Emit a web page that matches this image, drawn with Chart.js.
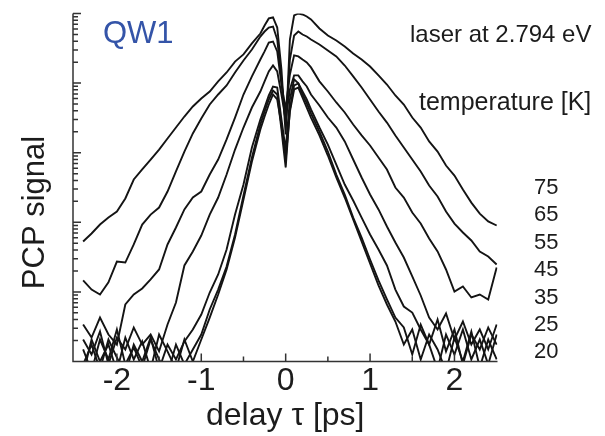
<!DOCTYPE html>
<html><head><meta charset="utf-8">
<script src="https://cdn.jsdelivr.net/npm/chart.js@4.4.0/dist/chart.umd.min.js"></script>
<style>html,body{margin:0;padding:0;background:#fff;}canvas{display:block;}</style>
</head><body>
<canvas id="c" width="605" height="436"></canvas>
<script>
const delay = [-2.4,-2.3,-2.2,-2.1,-2.0,-1.9,-1.8,-1.7,-1.6,-1.5,-1.4,-1.3,-1.2,-1.1,-1.0,-0.9,-0.8,-0.7,-0.6,-0.5,-0.4,-0.3,
  -0.25,-0.2,-0.15,-0.1,-0.05,0,0.05,0.1,0.15,0.2,0.25,
  0.3,0.4,0.5,0.6,0.7,0.8,0.9,1.0,1.1,1.2,1.3,1.4,1.5,1.6,1.7,1.8,1.9,2.0,2.1,2.2,2.3,2.4,2.5];
const temperatures = ['75','65','55','45','35','25','20'];
const pcp75 = [53,69,93,117,143,220,412,574,798,1110,1600,2300,3310,4620,6000,7570,10600,14200,20400,25800,37100,51600,
  67200,84900,87700,62900,15700,1830,42300,93700,100000,96900,90700,
  82100,60900,48300,40900,33600,26700,21800,17300,12900,9550,6640,4930,3200,2300,1450,1040,654,470,296,192,133,103,90];
const pcp65 = [14.6,10.8,9.18,13.7,27.3,26.4,48.0,92.9,129,163,277,537,1040,1890,3100,4930,6860,9240,14200,21100,30400,46700,
  55100,62900,65000,42300,11300,2540,21800,48300,55100,49900,46700,
  42300,35900,29400,24200,17900,12500,8640,5810,3910,2710,1770,1190,798,537,338,235,143,96,71.3,54.8,38.1,32.3,24.8];
const pcp55 = [3.40,2.21,4.28,2.44,1.75,6.59,9.18,11.2,15.1,21.0,48.0,84.2,153,227,277,486,798,1550,3200,6860,12500,21800,
  28500,38300,39600,28500,9550,4180,13300,25000,24200,21800,19800,
  16800,10600,7570,5270,3780,2540,1770,1270,852,574,316,227,138,96,58.5,38.1,21.0,10.1,12.0,8.31,9.18,7.78,22.4];
const pcp45 = [2.07,1.26,2.70,0.906,2.21,1.49,3.08,1.75,2.44,1.40,3.40,7.04,24.0,38.1,64.6,129,227,486,1110,2300,4460,7570,
  10600,14700,17900,14700,6860,3000,8090,12900,12900,10600,8940,
  6860,4770,3200,2300,1450,798,440,251,153,87.0,51.3,31.2,16.7,8.88,4.28,2.88,4.9,2.07,3.75,1.75,2.88,1.49,3.40];
const pcp35 = [0.906,1.75,0.768,2.07,1.14,0.650,1.75,1.00,2.21,0.768,1.75,1.07,1.94,2.88,4.73,9.80,17.8,40.7,129,349,1190,3000,
  4460,6640,8940,8640,3000,1110,5810,11300,9900,7570,5810,
  4180,2300,1310,676,349,206,117,66.8,40.7,24.0,10.8,6.17,5.05,2.88,1.75,4.01,1.40,2.88,0.906,2.44,1.49,3.08,1.75];
const pcp25 = [1.49,0.72,2.07,1.07,2.88,0.906,1.59,0.82,2.07,1.07,0.650,1.75,0.906,1.49,2.44,5.59,10.8,23.2,66.8,243,852,2540,
  3910,5810,7830,6860,2150,613,4180,9240,9870,6860,5100,
  3660,2010,1040,486,251,117,60.4,29.2,14.6,7.78,4.28,3.08,1.26,3.40,1.75,0.768,2.44,1.26,2.88,1.07,2.07,0.906,2.44];
const pcp20 = [0.650,2.07,1.00,1.75,0.72,2.21,1.07,1.94,0.768,2.44,1.40,0.768,2.07,1.00,2.07,4.28,9.18,21.0,60.4,213,747,2150,
  3310,4930,6860,5810,2540,798,3910,8090,8640,6200,4460,
  3200,1770,911,440,227,110,53.0,25.6,12.4,6.59,3.75,1.75,2.88,1.07,2.44,1.49,0.72,2.21,1.00,2.70,0.82,2.07,1.07];
const xTickValues = [-2,-1,0,1,2];
const xMinorTicks = [-1.5,-0.5,0.5,1.5];
const series = [pcp75,pcp65,pcp55,pcp45,pcp35,pcp25,pcp20];

const FONT = '"Liberation Sans", Arial, Helvetica, sans-serif';
const TXT = '#1c1c1c';

const decor = {
  id: 'decor',
  afterDraw(chart) {
    const {ctx, chartArea: a, scales: {x, y}} = chart;
    ctx.save();
    ctx.strokeStyle = '#333';
    ctx.lineWidth = 1.5;
    ctx.beginPath();
    ctx.moveTo(a.left, a.top);
    ctx.lineTo(a.left, a.bottom);
    ctx.lineTo(a.right, a.bottom);
    xTickValues.forEach(v => { const p = x.getPixelForValue(v); ctx.moveTo(p, a.bottom); ctx.lineTo(p, a.bottom - 8); });
    xMinorTicks.forEach(v => { const p = x.getPixelForValue(v); ctx.moveTo(p, a.bottom); ctx.lineTo(p, a.bottom - 5); });
    for (let d = 0; d <= 5; d++) {
      for (let k = 1; k <= 9; k++) {
        const v = k * Math.pow(10, d);
        if (v > y.max) break;
        const p = y.getPixelForValue(v);
        ctx.moveTo(a.left, p); ctx.lineTo(a.left + (k === 1 ? 8 : 5), p);
      }
    }
    ctx.stroke();

    ctx.fillStyle = '#3454a8';
    ctx.font = '31px ' + FONT;
    ctx.textAlign = 'left';
    ctx.textBaseline = 'alphabetic';
    ctx.fillText('QW1', 103, 43);

    ctx.fillStyle = TXT;
    ctx.font = '24px ' + FONT;
    ctx.fillText('laser at 2.794 eV', 410, 42);
    ctx.font = '25px ' + FONT;
    ctx.fillText('temperature [K]', 419, 110);

    ctx.font = '22px ' + FONT;
    ctx.textBaseline = 'middle';
    temperatures.forEach((t, i) => ctx.fillText(t, 534, 188 + i * 27.4));

    ctx.save();
    ctx.translate(44, 212.5);
    ctx.rotate(-Math.PI / 2);
    ctx.font = '31px ' + FONT;
    ctx.textAlign = 'center';
    ctx.textBaseline = 'alphabetic';
    ctx.fillText('PCP signal', 0, 0);
    ctx.restore();
    ctx.restore();
  }
};

new Chart(document.getElementById('c'), {
  type: 'line',
  data: {
    datasets: series.map((s, i) => ({
      label: temperatures[i] + ' K',
      data: delay.map((t, j) => ({x: t, y: s[j]})),
      borderColor: '#141414',
      borderWidth: 1.9,
      pointRadius: 0,
      tension: 0,
      fill: false
    }))
  },
  options: {
    responsive: false,
    animation: false,
    devicePixelRatio: 1,
    layout: {padding: {left: 0, right: 107.5, top: 13.5, bottom: 0}},
    plugins: {legend: {display: false}, tooltip: {enabled: false}},
    scales: {
      x: {
        type: 'linear', min: -2.52, max: 2.51,
        afterBuildTicks: s => { s.ticks = xTickValues.map(v => ({value: v})); },
        ticks: {font: {family: FONT, size: 32, lineHeight: 1.2}, color: TXT, padding: 0, autoSkip: false, maxRotation: 0,
          callback: v => String(v)},
        grid: {display: false, drawTicks: false},
        border: {display: false},
        title: {display: true, text: 'delay τ [ps]', color: TXT, font: {family: FONT, size: 32, lineHeight: 1},
          padding: {top: 0, bottom: 4}},
        afterFit: s => { s.height = 74.5; }
      },
      y: {
        type: 'logarithmic', min: 1, max: 100000,
        ticks: {display: false},
        grid: {display: false, drawTicks: false},
        border: {display: false},
        afterFit: s => { s.width = 73; }
      }
    }
  },
  plugins: [decor]
});
</script>
</body></html>
